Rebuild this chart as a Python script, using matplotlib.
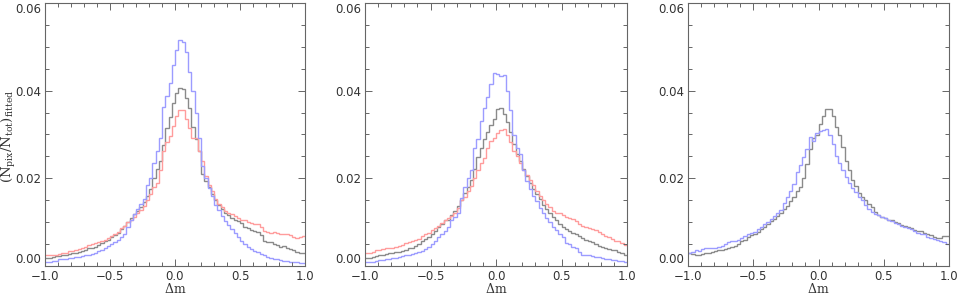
#! /usr/bin/python3
import numpy as np
import matplotlib
matplotlib.use('Agg')
import matplotlib.pyplot as plt
from matplotlib.ticker import MultipleLocator

plt.rc('font', size=8.5, family='DejaVu Sans')
plt.rc('mathtext', fontset='dejavuserif')
plt.rc('axes', linewidth=0.8, edgecolor='#666666')
plt.rc('xtick', direction='in', top=True, color='#666666', labelcolor='#333333')
plt.rc('ytick', direction='in', right=True, color='#666666', labelcolor='#333333')

# histogram bin edges in delta m (0.025 wide)
edges = np.linspace(-1.0, 1.0, 81)
yticks = [0.0, 0.02, 0.04, 0.06]

# panel 1
blue1 = [0.0010, 0.0010, 0.0012, 0.0012, 0.0016, 0.0016, 0.0016, 0.0018,
         0.0018, 0.0020, 0.0020, 0.0022, 0.0024, 0.0025, 0.0027, 0.0030,
         0.0034, 0.0036, 0.0040, 0.0046, 0.0050, 0.0055, 0.0060, 0.0066,
         0.0074, 0.0090, 0.0105, 0.0118, 0.0130, 0.0142, 0.0152, 0.0185,
         0.0200, 0.0234, 0.0262, 0.0292, 0.0362, 0.0388, 0.0418, 0.0458,
         0.0492, 0.0515, 0.0512, 0.0488, 0.0442, 0.0400, 0.0350, 0.0292,
         0.0228, 0.0200, 0.0178, 0.0160, 0.0140, 0.0128, 0.0115, 0.0102,
         0.0093, 0.0085, 0.0075, 0.0066, 0.0058, 0.0050, 0.0043, 0.0038,
         0.0035, 0.0031, 0.0027, 0.0025, 0.0020, 0.0018, 0.0016, 0.0015,
         0.0014, 0.0012, 0.0011, 0.0010, 0.0009, 0.0008, 0.0007, 0.0006]
black1 = [0.0018, 0.0018, 0.0020, 0.0022, 0.0022, 0.0024, 0.0026, 0.0028,
          0.0030, 0.0030, 0.0032, 0.0034, 0.0036, 0.0040, 0.0042, 0.0044,
          0.0048, 0.0052, 0.0056, 0.0060, 0.0066, 0.0070, 0.0076, 0.0084,
          0.0092, 0.0100, 0.0110, 0.0118, 0.0125, 0.0134, 0.0145, 0.0160,
          0.0175, 0.0200, 0.0222, 0.0240, 0.0275, 0.0315, 0.0340, 0.0372,
          0.0394, 0.0406, 0.0404, 0.0384, 0.0360, 0.0318, 0.0290, 0.0262,
          0.0210, 0.0195, 0.0180, 0.0164, 0.0150, 0.0140, 0.0130, 0.0120,
          0.0116, 0.0110, 0.0106, 0.0102, 0.0098, 0.0090, 0.0086, 0.0082,
          0.0080, 0.0078, 0.0070, 0.0058, 0.0054, 0.0054, 0.0050, 0.0048,
          0.0044, 0.0046, 0.0042, 0.0038, 0.0036, 0.0032, 0.0030, 0.0030]
red1 = [0.0024, 0.0026, 0.0026, 0.0026, 0.0028, 0.0030, 0.0030, 0.0034,
        0.0034, 0.0036, 0.0038, 0.0040, 0.0044, 0.0048, 0.0050, 0.0052,
        0.0054, 0.0058, 0.0060, 0.0064, 0.0068, 0.0072, 0.0078, 0.0086,
        0.0092, 0.0100, 0.0106, 0.0112, 0.0120, 0.0128, 0.0138, 0.0150,
        0.0165, 0.0180, 0.0190, 0.0218, 0.0262, 0.0282, 0.0296, 0.0320,
        0.0342, 0.0356, 0.0356, 0.0336, 0.0314, 0.0292, 0.0292, 0.0262,
        0.0240, 0.0205, 0.0185, 0.0170, 0.0152, 0.0142, 0.0134, 0.0126,
        0.0122, 0.0118, 0.0114, 0.0110, 0.0106, 0.0104, 0.0100, 0.0098,
        0.0096, 0.0096, 0.0090, 0.0080, 0.0078, 0.0076, 0.0078, 0.0076,
        0.0074, 0.0074, 0.0072, 0.0070, 0.0066, 0.0064, 0.0066, 0.0068]

# panel 2
blue2 = [0.0008, 0.0008, 0.0010, 0.0012, 0.0014, 0.0014, 0.0016, 0.0016,
         0.0018, 0.0018, 0.0020, 0.0022, 0.0024, 0.0026, 0.0028, 0.0030,
         0.0032, 0.0034, 0.0038, 0.0044, 0.0050, 0.0058, 0.0066, 0.0072,
         0.0080, 0.0090, 0.0104, 0.0112, 0.0120, 0.0155, 0.0180, 0.0200,
         0.0220, 0.0270, 0.0290, 0.0330, 0.0360, 0.0385, 0.0415, 0.0440,
         0.0438, 0.0434, 0.0436, 0.0400, 0.0356, 0.0298, 0.0270, 0.0255,
         0.0218, 0.0195, 0.0176, 0.0160, 0.0148, 0.0132, 0.0120, 0.0110,
         0.0100, 0.0090, 0.0082, 0.0074, 0.0066, 0.0052, 0.0050, 0.0044,
         0.0040, 0.0032, 0.0026, 0.0024, 0.0024, 0.0022, 0.0020, 0.0020,
         0.0018, 0.0016, 0.0016, 0.0014, 0.0014, 0.0012, 0.0011, 0.0010]
black2 = [0.0018, 0.0018, 0.0020, 0.0022, 0.0024, 0.0026, 0.0028, 0.0030,
          0.0030, 0.0032, 0.0032, 0.0034, 0.0036, 0.0040, 0.0042, 0.0046,
          0.0050, 0.0056, 0.0062, 0.0066, 0.0072, 0.0080, 0.0088, 0.0096,
          0.0104, 0.0106, 0.0116, 0.0126, 0.0136, 0.0150, 0.0166, 0.0180,
          0.0196, 0.0222, 0.0248, 0.0270, 0.0290, 0.0306, 0.0322, 0.0336,
          0.0358, 0.0360, 0.0346, 0.0328, 0.0306, 0.0278, 0.0256, 0.0240,
          0.0222, 0.0206, 0.0190, 0.0176, 0.0164, 0.0152, 0.0140, 0.0130,
          0.0120, 0.0112, 0.0104, 0.0096, 0.0090, 0.0084, 0.0080, 0.0076,
          0.0074, 0.0068, 0.0064, 0.0060, 0.0058, 0.0054, 0.0050, 0.0046,
          0.0044, 0.0040, 0.0038, 0.0036, 0.0036, 0.0032, 0.0030, 0.0024]
red2 = [0.0030, 0.0030, 0.0032, 0.0036, 0.0036, 0.0038, 0.0040, 0.0040,
        0.0042, 0.0044, 0.0046, 0.0048, 0.0052, 0.0054, 0.0058, 0.0060,
        0.0062, 0.0068, 0.0072, 0.0076, 0.0082, 0.0086, 0.0092, 0.0098,
        0.0104, 0.0110, 0.0114, 0.0122, 0.0132, 0.0150, 0.0158, 0.0172,
        0.0182, 0.0200, 0.0218, 0.0236, 0.0246, 0.0270, 0.0286, 0.0292,
        0.0304, 0.0310, 0.0312, 0.0300, 0.0282, 0.0262, 0.0250, 0.0236,
        0.0220, 0.0208, 0.0196, 0.0184, 0.0172, 0.0160, 0.0150, 0.0142,
        0.0134, 0.0126, 0.0122, 0.0120, 0.0116, 0.0112, 0.0110, 0.0108,
        0.0102, 0.0096, 0.0092, 0.0090, 0.0086, 0.0084, 0.0082, 0.0078,
        0.0074, 0.0068, 0.0066, 0.0062, 0.0058, 0.0056, 0.0052, 0.0048]

# panel 3 (no red curve)
blue3 = [0.0030, 0.0032, 0.0036, 0.0034, 0.0038, 0.0040, 0.0040, 0.0042,
         0.0042, 0.0044, 0.0046, 0.0050, 0.0054, 0.0056, 0.0058, 0.0060,
         0.0064, 0.0068, 0.0072, 0.0076, 0.0078, 0.0084, 0.0090, 0.0096,
         0.0100, 0.0108, 0.0114, 0.0120, 0.0128, 0.0144, 0.0158, 0.0170,
         0.0186, 0.0214, 0.0230, 0.0248, 0.0266, 0.0294, 0.0286, 0.0304,
         0.0308, 0.0310, 0.0312, 0.0298, 0.0278, 0.0250, 0.0234, 0.0218,
         0.0204, 0.0190, 0.0178, 0.0168, 0.0158, 0.0150, 0.0140, 0.0130,
         0.0124, 0.0118, 0.0116, 0.0112, 0.0110, 0.0106, 0.0102, 0.0098,
         0.0096, 0.0092, 0.0088, 0.0086, 0.0084, 0.0080, 0.0076, 0.0074,
         0.0072, 0.0066, 0.0064, 0.0062, 0.0060, 0.0058, 0.0054, 0.0050]
black3 = [0.0030, 0.0028, 0.0026, 0.0026, 0.0028, 0.0030, 0.0030, 0.0032,
          0.0034, 0.0036, 0.0036, 0.0038, 0.0042, 0.0044, 0.0046, 0.0050,
          0.0056, 0.0060, 0.0066, 0.0070, 0.0072, 0.0078, 0.0084, 0.0090,
          0.0096, 0.0102, 0.0108, 0.0114, 0.0122, 0.0130, 0.0138, 0.0148,
          0.0158, 0.0170, 0.0180, 0.0200, 0.0232, 0.0266, 0.0292, 0.0298,
          0.0324, 0.0342, 0.0358, 0.0358, 0.0342, 0.0316, 0.0298, 0.0272,
          0.0240, 0.0218, 0.0196, 0.0182, 0.0166, 0.0158, 0.0150, 0.0142,
          0.0134, 0.0124, 0.0116, 0.0112, 0.0110, 0.0106, 0.0104, 0.0100,
          0.0098, 0.0094, 0.0092, 0.0088, 0.0086, 0.0082, 0.0080, 0.0080,
          0.0076, 0.0074, 0.0070, 0.0066, 0.0064, 0.0064, 0.0068, 0.0068]

panels = [
    [(black1, '#8a8a8a'), (red1, '#ff9c9c'), (blue1, '#9c9cff')],
    [(black2, '#8a8a8a'), (red2, '#ff9c9c'), (blue2, '#9c9cff')],
    [(black3, '#8a8a8a'), (blue3, '#9c9cff')],
]

fig = plt.figure(figsize=(9.58, 2.95), dpi=100)
W, H = 958.0, 295.0
lefts = [45, 365, 688]
rights = [305, 627, 949]
top, bottom = 3, 266

def fmt_x(v, p):
    return ('%.1f' % v).replace('-', '\u2212')

for k, series in enumerate(panels):
    ax = fig.add_axes([lefts[k] / W, (H - bottom) / H,
                       (rights[k] - lefts[k]) / W, (bottom - top) / H])
    for vals, col in series:
        ax.stairs(vals, edges, color=col, linewidth=1.0, baseline=None)
    ax.xaxis.set_major_locator(MultipleLocator(0.5))
    ax.xaxis.set_minor_locator(MultipleLocator(0.1))
    ax.set_yticks(yticks, ['%.2f' % v for v in yticks])
    ax.yaxis.set_minor_locator(MultipleLocator(0.005))
    ax.set_xlim(-1.0, 1.0)
    ax.set_ylim(0.0, 0.06)
    ax.xaxis.set_major_formatter(plt.FuncFormatter(fmt_x))
    ax.tick_params(which='major', length=5, width=0.7, pad=3)
    ax.tick_params(which='minor', length=3, width=0.7)
    ax.tick_params(axis='x', which='minor', top=True, direction='in')
    ax.tick_params(axis='y', which='minor', right=True, direction='in')
    ax.set_xlabel(r'$\Delta\mathrm{m}$', labelpad=-1, color='#333333', fontsize=9)
    # end labels stay inside the frame height, as in the original
    yt = ax.yaxis.get_major_ticks()
    yt[0].label1.set_va('bottom')
    yt[3].label1.set_va('top')

fig.text(9 / W, 1 - 136 / H, r'$\mathrm{(N_{pix}/N_{tot})_{fitted}}$',
         rotation=90, ha='center', va='center', fontsize=9.5, color='#333333')

plt.savefig('out.png', dpi=100)
